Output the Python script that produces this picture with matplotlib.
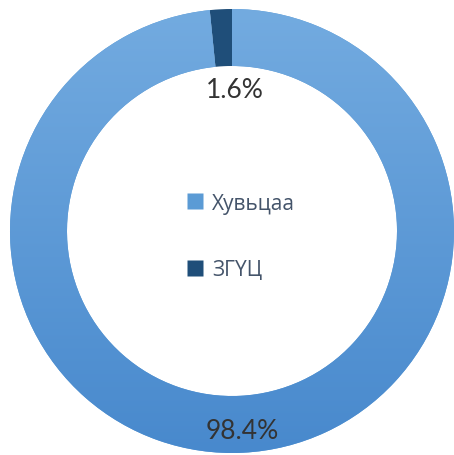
import numpy as np
import matplotlib
matplotlib.use("Agg")
import matplotlib.pyplot as plt
from matplotlib.lines import Line2D

labels = ["Хувьцаа", "ЗГҮЦ"]
values = [98.4, 1.6]
pct_labels = ["98.4%", "1.6%"]
colors = ["#5b9bd5", "#1f4e79"]

W, H = 454, 456
fig = plt.figure(figsize=(W / 100, H / 100), dpi=100)
ax = fig.add_axes([0, 0, 1, 1])

cx, cy, R = 232, 224, 222
width = 57
wedges, _ = ax.pie(values, colors=colors, startangle=90, counterclock=False,
                   center=(cx, cy), radius=R, frame=True,
                   wedgeprops=dict(width=width, linewidth=0))

# gradient fill for the main wedge
top = np.array(matplotlib.colors.to_rgb("#73abe0"))
bot = np.array(matplotlib.colors.to_rgb("#4889cd"))
t = np.linspace(0, 1, 256)[:, None]
grad = (bot[None, :] * (1 - t) + top[None, :] * t)[:, None, :]
grad = np.repeat(grad, 2, axis=1)
im = ax.imshow(grad, extent=(cx - R, cx + R, cy - R, cy + R), origin="lower",
               aspect="auto", zorder=wedges[0].get_zorder() + 0.1, interpolation="bilinear")
im.set_clip_path(wedges[0])
ax.set_xlim(0, W)
ax.set_ylim(0, H)
ax.set_aspect("equal")
ax.axis("off")

# percentage labels
dists = [0.9, 0.64]
for w, txt, d in zip(wedges, pct_labels, dists):
    ang = np.deg2rad((w.theta1 + w.theta2) / 2)
    x = cx + R * d * np.cos(ang)
    y = cy + R * d * np.sin(ang)
    if txt == "1.6%":
        x += 10
    ax.text(x, y, txt, ha="center", va="center", fontsize=19, color="#333333",
            family=["Lato", "DejaVu Sans"], fontweight="normal", zorder=10)

# legend in the center
handles = [Line2D([], [], marker="s", linestyle="none", markersize=11,
                  markerfacecolor=c, markeredgecolor="none") for c in ["#5b9bd5", "#1f4e79"]]
leg = ax.legend(handles, labels, loc="center", bbox_to_anchor=(0.528, 0.479),
                frameon=False, labelspacing=2.2, handletextpad=0.3,
                handlelength=1.0, labelcolor="#44546a",
                prop={"family": ["Open Sans", "DejaVu Sans"], "size": 15})

fig.savefig("out.png", dpi=100)
